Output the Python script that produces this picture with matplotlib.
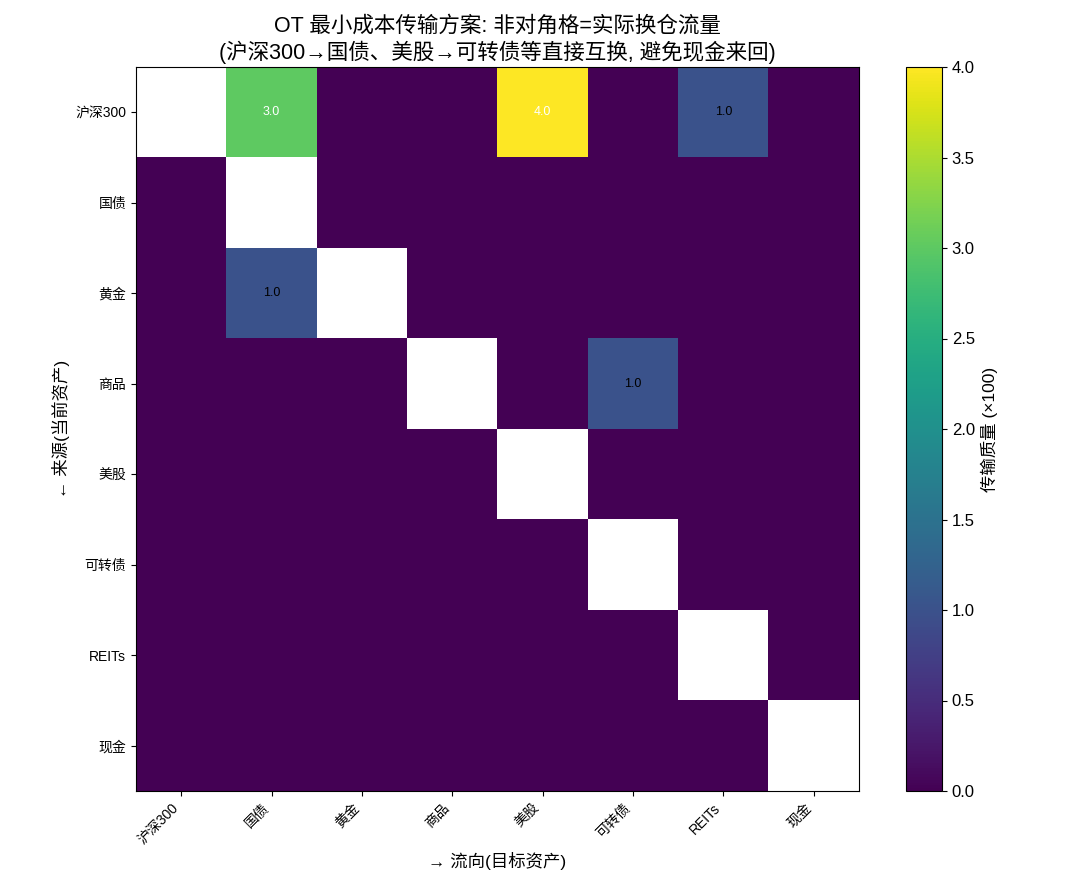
import matplotlib
matplotlib.use("Agg")
import matplotlib.pyplot as plt
import numpy as np

plt.rcParams["font.family"] = ["Liberation Sans", "Noto Sans CJK SC", "DejaVu Sans"]

assets = ["沪深300", "国债", "黄金", "商品", "美股", "可转债", "REITs", "现金"]
# off-diagonal transport flows (x100), row = source, col = target
flow_src = [0, 0, 0, 2, 3]
flow_dst = [1, 4, 6, 1, 5]
flow_val = [3.0, 4.0, 1.0, 1.0, 1.0]

n = len(assets)
plan = np.zeros((n, n))
for s, d, v in zip(flow_src, flow_dst, flow_val):
    plan[s, d] = v
shown = plan.copy()
shown[np.eye(n, dtype=bool)] = np.nan

fig = plt.figure(figsize=(10.66, 8.84), dpi=100)
ax = fig.add_axes([136 / 1066, 1 - 791 / 884, 723 / 1066, 724 / 884])
cax = fig.add_axes([906 / 1066, 1 - 791 / 884, 36 / 1066, 724 / 884])

im = ax.imshow(shown, cmap="viridis", vmin=0, vmax=4, aspect="auto")
for s, d, v in zip(flow_src, flow_dst, flow_val):
    ax.text(d, s, f"{v:.1f}", ha="center", va="center", fontsize=9,
            color="white" if v > 2 else "black")

ax.set_xticks(range(n))
ax.set_xticklabels(assets, rotation=45, ha="right", fontsize=10)
ax.set_yticks(range(n))
ax.set_yticklabels(assets, fontsize=10)
ax.set_xlabel("→ 流向(目标资产)", fontsize=12.5)
ax.set_ylabel("← 来源(当前资产)", fontsize=12.5)
ax.set_title("OT 最小成本传输方案: 非对角格=实际换仓流量\n(沪深300→国债、美股→可转债等直接互换, 避免现金来回)",
             fontsize=15.5)

cb = fig.colorbar(im, cax=cax)
cb.set_label("传输质量 (×100)", fontsize=12.5)
cb.ax.tick_params(labelsize=12)

fig.savefig("out.png", dpi=100)
